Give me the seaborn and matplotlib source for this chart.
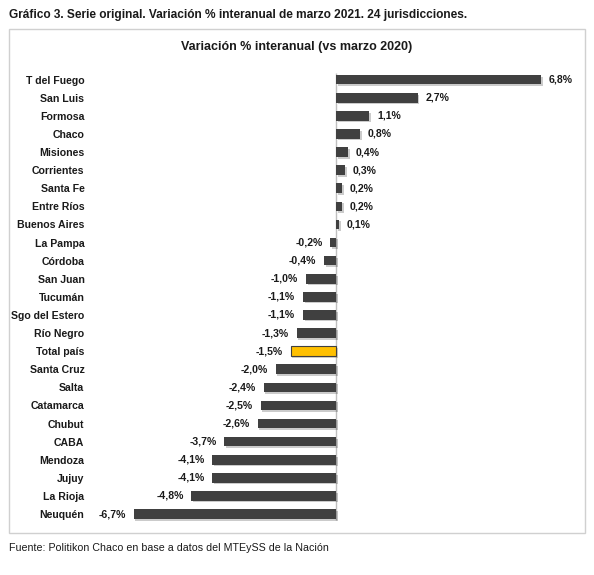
import matplotlib; matplotlib.use("Agg")
import matplotlib.pyplot as plt
import matplotlib.patheffects as pe
from matplotlib.patches import Rectangle
import seaborn as sns
import pandas as pd

provincias = ["T del Fuego", "San Luis", "Formosa", "Chaco", "Misiones", "Corrientes",
              "Santa Fe", "Entre Ríos", "Buenos Aires", "La Pampa", "Córdoba", "San Juan",
              "Tucumán", "Sgo del Estero", "Río Negro", "Total país", "Santa Cruz", "Salta",
              "Catamarca", "Chubut", "CABA", "Mendoza", "Jujuy", "La Rioja", "Neuquén"]
variacion = [6.8, 2.7, 1.1, 0.8, 0.4, 0.3, 0.2, 0.2, 0.1, -0.2, -0.4, -1.0,
             -1.1, -1.1, -1.3, -1.5, -2.0, -2.4, -2.5, -2.6, -3.7, -4.1, -4.1, -4.8, -6.7]
destacado = "Total país"

sns.set_theme(style="white")
plt.rcParams["font.family"] = ["Liberation Sans", "DejaVu Sans"]

df = pd.DataFrame({"prov": provincias, "var": variacion})
pal = {p: ("#FFC000" if p == destacado else "#404040") for p in provincias}

fig = plt.figure(figsize=(5.94, 5.75), dpi=100)
ax = fig.add_axes([90/594, 1-530/575, 490/594, 464/575])
sns.barplot(data=df, y="prov", x="var", hue="prov", palette=pal, legend=False,
            orient="h", width=0.53, saturation=1, ax=ax)

# sombra suave como en el original
for bar, p in zip(ax.patches, provincias):
    bar.set_path_effects([pe.SimplePatchShadow(offset=(1.2, -1.2), alpha=0.22), pe.Normal()])
    if p == destacado:
        bar.set_edgecolor("#404040"); bar.set_linewidth(0.8)
    else:
        bar.set_linewidth(0)

labels = [f"{v:.1f}".replace(".", ",") + "%" for v in variacion]
for cont, lab in zip(ax.containers, labels):
    ax.bar_label(cont, labels=[lab], padding=5.5, fontsize=7.6, fontweight="bold", color="#1a1a1a")

ax.vlines(0, -0.37, 24.33, color="#BFBFBF", lw=1, zorder=0)
ax.set_xlim(-8.15, 8.08)
ax.set_ylim(24.88, -0.757)
ax.set_xticks([])
ax.set_xlabel(""); ax.set_ylabel("")
ax.tick_params(axis="y", length=0, pad=4, labelsize=7.6)
for t in ax.get_yticklabels():
    t.set_fontweight("bold"); t.set_color("#1a1a1a")
sns.despine(ax=ax, left=True, bottom=True)
ax.patch.set_alpha(0)

fig.patches.append(Rectangle((9/594, 1-533/575), 576/594, 504/575, transform=fig.transFigure,
                             fill=False, edgecolor="#D0D0D0", lw=1))
fig.text(9/594, 1-15/575, "Gráfico 3. Serie original. Variación % interanual de marzo 2021. 24 jurisdicciones.",
         fontsize=8.55, fontweight="bold", va="center", ha="left", color="#1a1a1a")
fig.text(297/594, 1-47/575, "Variación % interanual (vs marzo 2020)",
         fontsize=9, fontweight="bold", va="center", ha="center", color="#1a1a1a")
fig.text(9/594, 1-548/575, "Fuente: Politikon Chaco en base a datos del MTEySS de la Nación",
         fontsize=7.7, va="center", ha="left", color="#1a1a1a")

fig.savefig("out.png", dpi=100)
